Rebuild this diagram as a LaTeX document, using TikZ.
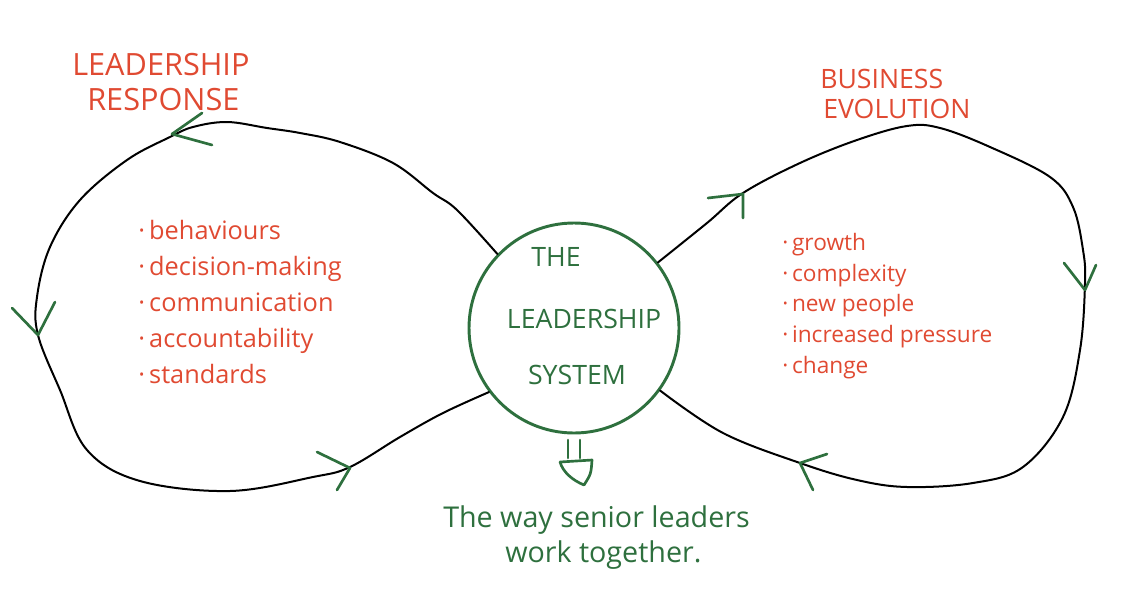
\documentclass[tikz,border=0pt]{standalone}
\usepackage{fontspec}
\setmainfont{Open Sans}
\definecolor{penred}{RGB}{224,74,50}
\definecolor{pengreen}{RGB}{46,112,62}
\begin{document}
\begin{tikzpicture}[x=0.75pt,y=-0.75pt,
  loopline/.style={draw=black, line width=1.5pt, line cap=round, line join=round},
  tipline/.style={draw=pengreen, line width=2pt, line cap=round, line join=round},
  heading/.style={text=penred, font=\fontsize{23}{25}\selectfont, inner sep=0pt, anchor=base west},
  itemlist/.style={text=penred, inner sep=0pt, anchor=north west, align=left},
  syslabel/.style={text=pengreen, font=\fontsize{20}{22}\selectfont, inner sep=0pt, anchor=base},
  caption/.style={text=pengreen, font=\fontsize{21.5}{24}\selectfont, inner sep=0pt, anchor=base west}]
\useasboundingbox (0,0) rectangle (1126,592);

% central circle
\node[circle, draw=pengreen, line width=2.2pt, minimum size=157.5pt, inner sep=0pt] (sys) at (574,328) {};
\node[syslabel] (the) at (556,266) {THE};
\node[syslabel] (lead) at (584,328) {LEADERSHIP};
\node[syslabel] (syst) at (577,384) {SYSTEM};

% left loop
\draw[loopline] plot[smooth, tension=0.6] coordinates {(sys.136) (457,210) (433,193) (393,163) (340,142) (300,133) (267,128) (227,122) (193,127) (170,137) (127,160) (80,200) (50,247) (37,297) (38,335) (60,390) (87,450) (140,481) (230,491) (313,477) (350,467) (400,437) (443,413) (sys.217)};
% right loop
\draw[loopline] plot[smooth, tension=0.6] coordinates {(sys.38) (707,223) (743,193) (800,163) (857,140) (907,126) (940,128) (990,147) (1050,177) (1073,207) (1083,250) (1085,283) (1080,350) (1063,417) (1023,467) (973,483) (907,487) (857,480) (800,463) (723,433) (sys.-36)};

% arrowheads
\draw[tipline] (202,113) -- (172,134) -- (212,145);
\draw[tipline] (12,308) -- (38,335) -- (55,302);
\draw[tipline] (317,452) -- (350,468) -- (337,490);
\draw[tipline] (708,198) -- (743,194) -- (743,218);
\draw[tipline] (1064,263) -- (1085,290) -- (1096,265);
\draw[tipline] (827,454) -- (800,463) -- (813,490);

% down arrow
\draw[tipline] (568,440) -- (568,458);
\draw[tipline] (580,440) -- (580,458);
\draw[tipline] (560,462) -- (592,460) .. controls (591,474) .. (584,485) .. controls (572,480) and (563,472) .. (560,462);

% headings
\node[heading] (lr1) at (72,75) {LEADERSHIP};
\node[heading] (lr2) at (87,110) {RESPONSE};
\node[heading, font=\fontsize{20}{22}\selectfont] (be1) at (820,89) {BUSINESS};
\node[heading, font=\fontsize{20}{22}\selectfont] (be2) at (823,118) {EVOLUTION};

% lists
\node[itemlist, font=\fontsize{19}{27}\selectfont] (leftlist) at (138,220) {·\,behaviours\\·\,decision-making\\·\,communication\\·\,accountability\\·\,standards};
\node[itemlist, font=\fontsize{17}{23}\selectfont] (rightlist) at (782,233) {·\,growth\\·\,complexity\\·\,new people\\·\,increased pressure\\·\,change};

% caption
\node[caption] (cap1) at (443,527) {The way senior leaders};
\node[caption] (cap2) at (505,562) {work together.};
\end{tikzpicture}
\end{document}
